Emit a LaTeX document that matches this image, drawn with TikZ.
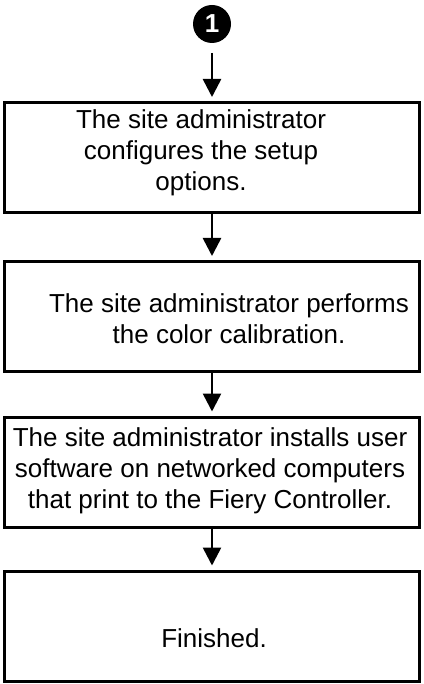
\documentclass[tikz,border=0pt]{standalone}
\usepackage{fontspec}
\setmainfont{Liberation Sans}
\usetikzlibrary{arrows.meta}
\begin{document}
\begin{tikzpicture}[x=1pt,y=-1pt,
  stepbox/.style={draw=black,line width=3pt,minimum width=415pt,minimum height=110pt,inner sep=0pt},
  steptext/.style={inner sep=0pt,align=center,font=\fontsize{26}{31}\selectfont},
  flow/.style={line width=2.6pt,-{Triangle[length=18pt,width=18pt]},shorten >=4pt}]
\useasboundingbox (0,0) rectangle (423,684);
\node[circle,fill=black,minimum size=38pt,inner sep=0pt,text=white,font=\fontsize{26}{26}\selectfont\bfseries] (c) at (212,24) {1};
\coordinate (a0) at (212,53);
\node[stepbox] (b1) at (212,157.5) {};
\node[stepbox] (b2) at (212,316.5) {};
\node[stepbox] (b3) at (212,472) {};
\node[stepbox] (b4) at (212,626) {};
\node[steptext] (t1) at (201,153) {The site administrator\\configures the setup\\options.};
\node[steptext] (t2) at (229,319) {The site administrator performs\\the color calibration.};
\node[steptext] (t3) at (210,471) {The site administrator installs user\\software on networked computers\\that print to the Fiery Controller.};
\node[steptext] (t4) at (214,638) {Finished.};
\draw[flow] (a0) -- (b1.north);
\draw[flow] (b1.south) -- (b2.north);
\draw[flow] (b2.south) -- (b3.north);
\draw[flow] (b3.south) -- (b4.north);
\end{tikzpicture}
\end{document}
